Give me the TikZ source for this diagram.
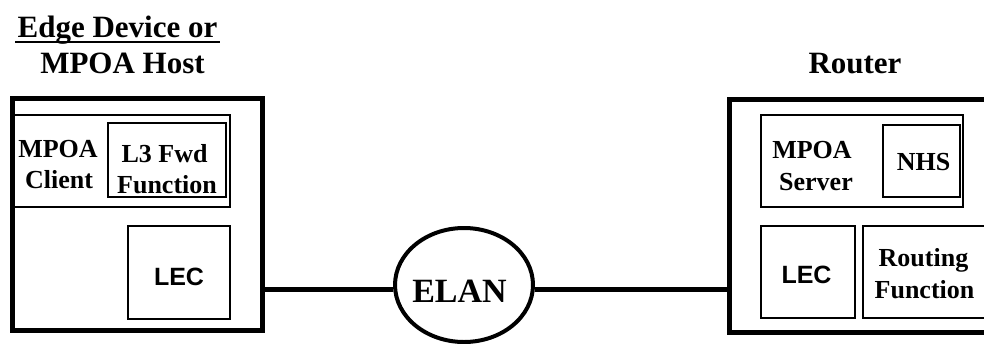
\documentclass[tikz,border=0pt]{standalone}
\usepackage{fontspec}
\setmainfont{Liberation Serif}
\newfontfamily\arialf{Liberation Sans}
\usetikzlibrary{shapes.geometric}
\tikzset{
  outerbox/.style={draw, line width=5pt},
  innerbox/.style={draw, line width=2pt},
  lbl/.style={anchor=base, inner sep=0pt, font=\fontsize{26}{31}\selectfont\bfseries},
  lecl/.style={anchor=base, inner sep=0pt, font=\fontsize{25}{30}\arialf\bfseries},
  hdr/.style={anchor=base, inner sep=0pt, font=\fontsize{31}{36}\selectfont\bfseries},
  link/.style={line width=5pt},
}
\begin{document}
\begin{tikzpicture}[x=1pt,y=-1pt]
\useasboundingbox (0,0) rectangle (984,343);
\clip (0,0) rectangle (984,343);
% headers
\node[hdr] (h1) at (117.5,37) {Edge Device or};
\draw[line width=2pt] (15,42) -- (220,42);
\node[hdr] (h2) at (122.5,73) {MPOA Host};
\node[hdr] (h3) at (855,73) {Router};
% left device
\draw[outerbox] (12.5,98) rectangle (262.5,330.5);
\coordinate (leftport) at (262.5,289);
\draw[innerbox] (12,115) rectangle (230,207);
\draw[draw, line width=2.5pt] (108,123) rectangle (226,197);
\node[lbl] (c1) at (58,157) {MPOA};
\node[lbl] (c2) at (59,188) {Client};
\node[lbl] (f1) at (164.5,162) {L3 Fwd};
\node[lbl] (f2) at (167,193) {Function};
\draw[innerbox] (128,226) rectangle (230,319);
\node[lecl] (lec1) at (179,285) {LEC};
% ELAN
\node[draw, ellipse, line width=4pt, minimum width=138pt, minimum height=114pt, inner sep=0pt] (elan) at (464,285) {};
\node[anchor=base, inner sep=0pt, font=\fontsize{34}{40}\selectfont\bfseries] (elant) at (459.5,302) {ELAN};
% right device
\draw[outerbox] (729,99) rectangle (1010,332);
\coordinate (rightport) at (729,289);
\draw[innerbox] (761,115) rectangle (963,207);
\draw[innerbox] (883,125) rectangle (960,197);
\node[lbl] (s1) at (812,158) {MPOA};
\node[lbl] (s2) at (816,190) {Server};
\node[lbl] (nhs) at (923.5,170) {NHS};
\draw[innerbox] (761,226) rectangle (855,318);
\node[lecl] (lec2) at (806.5,283) {LEC};
\draw[innerbox] (863,226) rectangle (1000,318);
\node[lbl] (r1) at (923.5,266) {Routing};
\node[lbl] (r2) at (924.5,298) {Function};
% links
\draw[link] (leftport) -- (leftport -| elan.west);
\draw[link] (rightport -| elan.east) -- (rightport);
\end{tikzpicture}
\end{document}
